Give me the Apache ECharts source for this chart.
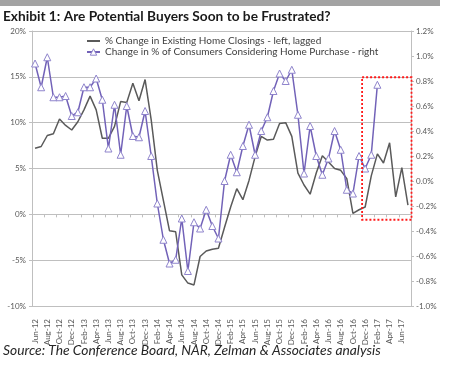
<!DOCTYPE html>
<html>
<head>
<meta charset="utf-8">
<script src="https://cdn.jsdelivr.net/npm/echarts@6/dist/echarts.min.js"></script>
<style>html,body{margin:0;padding:0;background:#fff}#c{width:451px;height:367px}</style>
</head>
<body>
<div id="c"></div>
<script>
const categories = ['Jun-12','Jul-12','Aug-12','Sep-12','Oct-12','Nov-12','Dec-12','Jan-13','Feb-13','Mar-13','Apr-13','May-13',
'Jun-13','Jul-13','Aug-13','Sep-13','Oct-13','Nov-13','Dec-13','Jan-14','Feb-14','Mar-14','Apr-14','May-14',
'Jun-14','Jul-14','Aug-14','Sep-14','Oct-14','Nov-14','Dec-14','Jan-15','Feb-15','Mar-15','Apr-15','May-15',
'Jun-15','Jul-15','Aug-15','Sep-15','Oct-15','Nov-15','Dec-15','Jan-16','Feb-16','Mar-16','Apr-16','May-16',
'Jun-16','Jul-16','Aug-16','Sep-16','Oct-16','Nov-16','Dec-16','Jan-17','Feb-17','Mar-17','Apr-17','May-17',
'Jun-17','Jul-17'];

// % Change in Existing Home Closings - left, lagged
const closings = [7.2,7.4,8.6,8.8,10.4,9.7,9.2,10.1,11.4,12.9,11.4,8.3,
8.3,9.6,12.3,12.2,14.3,12.4,14.7,10.3,4.8,1.5,-1.8,-1.9,
-6.6,-7.5,-7.7,-4.6,-4.0,-3.8,-3.7,-1.4,0.8,2.8,1.6,3.7,
6.3,8.5,8.1,8.2,9.9,10.0,8.5,4.5,3.2,2.2,4.5,6.4,
5.7,5.0,4.8,3.9,0.1,0.5,0.8,4.2,6.6,5.6,7.8,1.9,
5.1,1.0];

// Change in % of Consumers Considering Home Purchase - right
const consumers = [0.94,0.75,0.99,0.67,0.67,0.68,0.52,0.55,0.75,0.75,0.82,0.65,
0.26,0.61,0.21,0.60,0.36,0.35,0.56,0.20,-0.18,-0.47,-0.66,-0.63,
-0.30,-0.72,-0.33,-0.38,-0.23,-0.36,-0.46,0.00,0.21,0.07,0.28,0.45,
0.21,0.40,0.51,0.72,0.86,0.80,0.89,0.53,0.06,0.44,0.20,0.05,
0.18,0.40,0.25,-0.07,-0.10,0.20,0.10,0.21,0.77];

const leftTicks = {min: -10, max: 20, interval: 5};
const rightTicks = {min: -1.0, max: 1.2, interval: 0.2};
const boxRange = {fromAfter: 'Nov-16', to: 'Jul-17', top: 0.83, bottom: -0.31};

const seriesNames = ['% Change in Existing Home Closings - left, lagged', 'Change in % of Consumers Considering Home Purchase - right'];

const chart = echarts.init(document.getElementById('c'), null, {renderer: 'canvas'});
const axisColor = '#bfbfbf';
const labelColor = '#595959';
const font = 'Lato, sans-serif';
const grayC = '#5a5a5a', purpleC = '#7262b8', markerC = '#8f84cc';

chart.setOption({
  animation: false,
  backgroundColor: '#fff',
  grid: {left: 32, right: 40, top: 31, bottom: 61},
  legend: {
    orient: 'vertical', left: 86, top: 36, padding: 0, itemGap: 1, itemWidth: 13, itemHeight: 8,
    textStyle: {fontSize: 10, color: '#404040', fontFamily: font},
    data: [
      {name: seriesNames[0], itemStyle: {opacity: 0}},
      {name: seriesNames[1], itemStyle: {color: '#ffffff', borderColor: markerC, borderWidth: 1}}
    ]
  },
  xAxis: [{
    type: 'category', data: categories, boundaryGap: true,
    axisLine: {onZero: true, onZeroAxisIndex: 0, lineStyle: {color: axisColor}},
    axisTick: {show: true, interval: 1, length: 3, inside: false, lineStyle: {color: axisColor}},
    axisLabel: {show: false}, splitLine: {show: false}
  }, {
    type: 'category', data: categories, boundaryGap: true, position: 'bottom',
    axisLine: {show: false, onZero: false}, axisTick: {show: false},
    axisLabel: {interval: 1, rotate: 90, fontSize: 8, color: labelColor, fontFamily: font, margin: 13},
    splitLine: {show: false}
  }],
  yAxis: [{
    type: 'value', min: leftTicks.min, max: leftTicks.max, interval: leftTicks.interval,
    axisLine: {show: true, lineStyle: {color: axisColor}},
    axisTick: {show: true, length: 3, lineStyle: {color: axisColor}},
    axisLabel: {fontSize: 8, color: labelColor, fontFamily: font, margin: 6, formatter: v => v + '%'},
    splitLine: {show: true, lineStyle: {color: axisColor, width: 1}}
  }, {
    type: 'value', position: 'right', min: rightTicks.min, max: rightTicks.max, interval: rightTicks.interval,
    axisLine: {show: true, lineStyle: {color: axisColor}},
    axisTick: {show: true, length: 3, lineStyle: {color: axisColor}},
    axisLabel: {fontSize: 8, color: labelColor, fontFamily: font, margin: 5, formatter: v => v.toFixed(1) + '%'},
    splitLine: {show: false}
  }],
  series: [{
    name: seriesNames[0], type: 'line', xAxisIndex: 0, yAxisIndex: 0, data: closings,
    symbol: 'none', lineStyle: {color: grayC, width: 1.5}, itemStyle: {color: grayC}, z: 2
  }, {
    name: seriesNames[1], type: 'line', xAxisIndex: 0, yAxisIndex: 1, data: consumers,
    symbol: 'triangle', symbolSize: 7, showAllSymbol: true,
    lineStyle: {color: purpleC, width: 1.5},
    itemStyle: {color: '#ffffff', borderColor: markerC, borderWidth: 1}, z: 3
  }],
  graphic: [
    {type: 'rect', left: 0, top: 0, shape: {width: 440, height: 6}, style: {fill: '#a3a3a3'}},
    {type: 'text', left: 3, top: 10, style: {text: 'Exhibit 1: Are Potential Buyers Soon to be Frustrated?', fontWeight: 'bold', fontSize: 13.7, fontFamily: font, fill: '#1a1a1a'}},
    {type: 'text', left: 3, top: 344, style: {text: 'Source: The Conference Board, NAR, Zelman & Associates analysis', fontStyle: 'italic', fontSize: 13.8, fontFamily: font, fill: '#262626'}}
  ]
});

// red dotted annotation box, positioned through the chart's scales
const idx = categories.indexOf(boxRange.fromAfter);
const xa = chart.convertToPixel({xAxisIndex: 0}, categories[idx]);
const xb = chart.convertToPixel({xAxisIndex: 0}, categories[idx + 1]);
const band = xb - xa;
const xL = (xa + xb) / 2;
const xR = chart.convertToPixel({xAxisIndex: 0}, boxRange.to) + band / 2 + 0.5;
const yT = chart.convertToPixel({yAxisIndex: 1}, boxRange.top);
const yB = chart.convertToPixel({yAxisIndex: 1}, boxRange.bottom);
chart.setOption({graphic: [{}, {}, {}, {
  type: 'rect', shape: {x: xL, y: yT, width: xR - xL, height: yB - yT},
  style: {fill: 'none', stroke: '#ff1a1a', lineWidth: 1.8, lineDash: [2, 2]}, z: 10
}]});
</script>
</body>
</html>
